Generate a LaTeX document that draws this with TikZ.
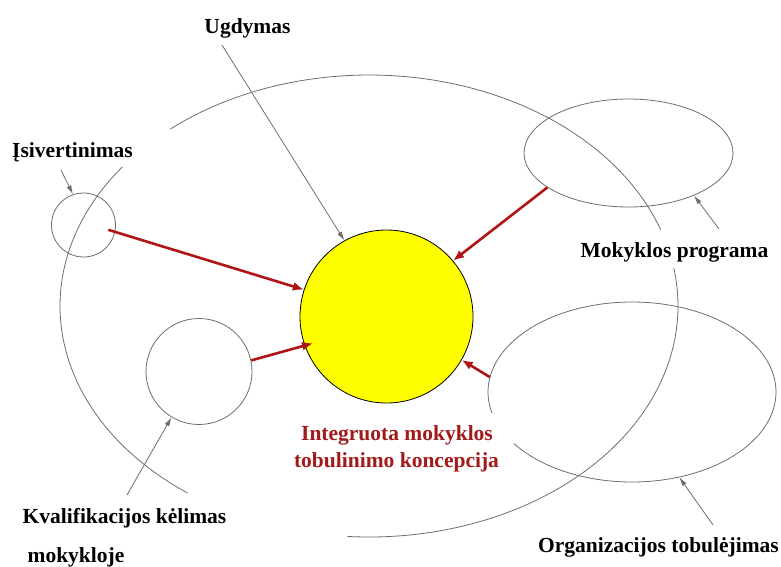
\documentclass[tikz,border=0pt]{standalone}
\usepackage{fontspec}
\setmainfont{Liberation Serif}
\usetikzlibrary{shapes.geometric,arrows.meta,calc}
\definecolor{linegray}{HTML}{6E6E6E}
\definecolor{darkred}{HTML}{B01515}
\definecolor{textred}{HTML}{A31A1A}
\definecolor{sunyellow}{RGB}{255,255,0}
\begin{document}
\begin{tikzpicture}[x=1pt,y=-1pt,
  lbl/.style={font=\fontsize{21.5}{26}\selectfont\bfseries, text=black, inner sep=0pt},
  redlbl/.style={lbl, text=textred},
  ring/.style={draw=linegray, line width=0.8pt},
  pointer/.style={draw=linegray, line width=0.8pt, -{Latex[length=9pt,width=5pt]}},
  feed/.style={draw=darkred, line width=2.6pt, -{Latex[length=11pt,width=9pt]}},
]
\useasboundingbox (0,0) rectangle (781,566);
\fill[white] (0,0) rectangle (781,566);

% large surrounding ellipse (three arcs with gaps)
\draw[ring] plot[domain=143:234, samples=80, smooth] ({369+309*cos(\x)},{306-231*sin(\x)});
\draw[ring] plot[domain=266:369.5, samples=90, smooth] ({369+309*cos(\x)},{306-231*sin(\x)});
\draw[ring] plot[domain=19.3:130, samples=90, smooth] ({369+309*cos(\x)},{306-231*sin(\x)});

% shapes
\node[circle, minimum size=173pt, inner sep=0pt, fill=sunyellow, draw=black, line width=0.8pt] (main) at (386.5,316.5) {};
\node[circle, ring, minimum size=64pt, inner sep=0pt] (isv) at (83.5,225) {};
\node[circle, ring, minimum size=106pt, inner sep=0pt] (kval) at (199,371.5) {};
\node[ellipse, ring, minimum width=209pt, minimum height=108pt, inner sep=0pt] (mok) at (628.5,153) {};
\node[ellipse, minimum width=288pt, minimum height=180pt, inner sep=0pt] (org) at (632,392) {};
\draw[ring] plot[domain=215:553.5, samples=150, smooth] ({632+144*cos(\x)},{392-90*sin(\x)});

% labels
\node[lbl, anchor=base] (ugd) at (247.5,33) {Ugdymas};
\node[lbl, anchor=base] (isvl) at (72.5,157) {Įsivertinimas};
\node[lbl, anchor=base] (mokl) at (674.5,257) {Mokyklos programa};
\node[lbl, anchor=base] (kvall) at (124.5,523) {Kvalifikacijos kėlimas};
\node[lbl, anchor=base] (kvall2) at (76,562) {mokykloje};
\node[lbl, anchor=base] (orgl) at (658.5,552) {Organizacijos tobulėjimas};
\node[redlbl, anchor=base] (t1) at (397,440) {Integruota mokyklos};
\node[redlbl, anchor=base] (t2) at (396.5,467) {tobulinimo koncepcija};

% gray pointers
\coordinate (ugdS) at (222,45);
\coordinate (isvS) at (61,170);
\coordinate (mokS) at (719,229);
\coordinate (kvalS) at (127,495);
\coordinate (orgS) at (713,525);
\draw[pointer] (ugdS) -- (main.119);
\draw[pointer] (isvS) -- (isv.109);
\draw[pointer] (mokS) -- (mok.-33);
\draw[pointer] (kvalS) -- (kval.239);
\draw[pointer] (orgS) -- (org.-61);

% red feeding arrows
\draw[feed] ($(isv.center)!0.78!(isv.-11)$) -- (main.162);
\draw[feed] (kval.12) -- ($(main.center)!0.9!(main.200)$);
\draw[feed] (mok.203.5) -- (main.40);
\draw[feed] (org.174) -- (main.-30);
\end{tikzpicture}
\end{document}
